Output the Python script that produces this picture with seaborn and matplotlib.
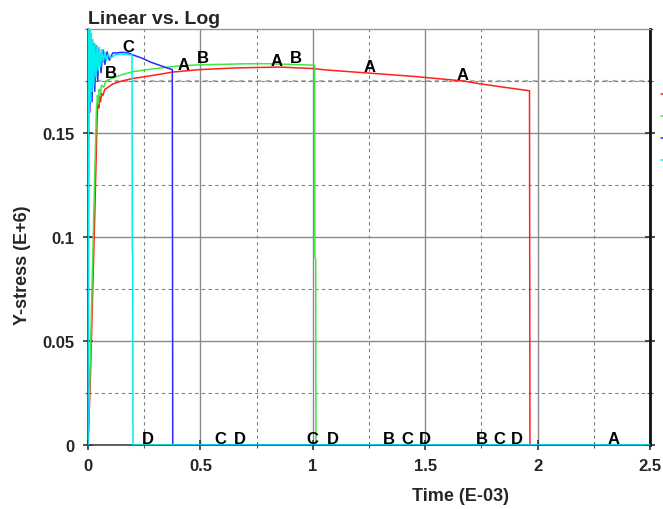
import numpy as np
import pandas as pd
import matplotlib
matplotlib.use("Agg")
import matplotlib.pyplot as plt
from matplotlib.lines import Line2D
from matplotlib.ticker import MultipleLocator
import seaborn as sns

# ---- series data (time in E-03, stress in E+6) ----
t_a = [0.0, 0.01, 0.02, 0.03, 0.04, 0.044, 0.048, 0.052, 0.056, 0.06, 0.066, 0.075,
       0.09, 0.11, 0.15, 0.2, 0.26, 0.3, 0.378, 0.5, 0.66, 0.85, 1.0, 1.06, 1.25,
       1.45, 1.67, 1.74, 1.85, 1.964, 1.966, 2.5]
y_a = [0.0, 0.03, 0.07, 0.11, 0.155, 0.166, 0.162, 0.168, 0.165, 0.169, 0.168, 0.171,
       0.172, 0.1736, 0.175, 0.1762, 0.1772, 0.1779, 0.1793, 0.1805, 0.1813, 0.1817,
       0.181, 0.1803, 0.1788, 0.1772, 0.175, 0.1737, 0.172, 0.1703, 0.0, 0.0]

t_b = [0.0, 0.01, 0.02, 0.03, 0.037, 0.042, 0.046, 0.05, 0.055, 0.06, 0.07, 0.08,
       0.1, 0.15, 0.2, 0.3, 0.4, 0.5, 0.6, 0.7, 0.8, 0.9, 1.0, 1.008, 1.009, 1.013,
       1.014, 2.5]
y_b = [0.0, 0.04, 0.085, 0.13, 0.16, 0.168, 0.164, 0.171, 0.168, 0.173, 0.172, 0.175,
       0.176, 0.178, 0.1795, 0.181, 0.1822, 0.1828, 0.183, 0.1833, 0.1833, 0.183,
       0.1826, 0.1826, 0.091, 0.089, 0.0, 0.0]

t_c = [0.0, 0.003, 0.008, 0.013, 0.018, 0.024, 0.03, 0.036, 0.043, 0.05, 0.058, 0.066,
       0.075, 0.085, 0.095, 0.11, 0.13, 0.15, 0.18, 0.2, 0.24, 0.28, 0.32, 0.36,
       0.375, 0.377, 2.5]
y_c = [0.0, 0.19, 0.16, 0.195, 0.165, 0.193, 0.17, 0.192, 0.175, 0.191, 0.179, 0.19,
       0.183, 0.189, 0.185, 0.1885, 0.1885, 0.1888, 0.1885, 0.1875, 0.186, 0.184,
       0.1825, 0.181, 0.1805, 0.0, 0.0]

t_d = [0.0, 0.002, 0.005, 0.008, 0.011, 0.014, 0.018, 0.022, 0.026, 0.03, 0.035, 0.04,
       0.045, 0.05, 0.056, 0.062, 0.068, 0.075, 0.082, 0.09, 0.1, 0.12, 0.15, 0.19,
       0.196, 0.197, 0.199, 0.2, 2.5]
y_d = [0.0, 0.2, 0.16, 0.2, 0.165, 0.198, 0.17, 0.195, 0.173, 0.193, 0.177, 0.192,
       0.18, 0.191, 0.182, 0.19, 0.184, 0.189, 0.185, 0.188, 0.186, 0.1875, 0.188,
       0.1875, 0.1875, 0.095, 0.09, 0.0, 0.0]

# positions (time) of the curve letters
lab_a = [0.425, 0.84, 1.253, 1.667, 2.34]
lab_b = [0.10, 0.51, 0.925, 1.34, 1.75]
lab_c = [0.18, 0.59, 1.0, 1.42, 1.83]
lab_d = [0.265, 0.675, 1.09, 1.50, 1.91]

series = {"A": (t_a, y_a), "B": (t_b, y_b), "C": (t_c, y_c), "D": (t_d, y_d)}
labels_at = {"A": lab_a, "B": lab_b, "C": lab_c, "D": lab_d}
colors = {"A": "#ff2020", "B": "#40e840", "C": "#2a2aff", "D": "#00eeee"}

x_ticks = [0, 0.5, 1, 1.5, 2, 2.5]
x_ticklabels = ["0", "0.5", "1", "1.5", "2", "2.5"]
y_ticks = [0, 0.05, 0.1, 0.15]
y_ticklabels = ["0", "0.05", "0.1", "0.15"]

rows = []
for name, (tt, yy) in series.items():
    for i, (a, b) in enumerate(zip(tt, yy)):
        rows.append({"curve": name, "order": i, "time": a, "stress": b})
df = pd.DataFrame(rows)

sns.set_theme(style="white")
plt.rcParams["font.family"] = ["Liberation Sans", "DejaVu Sans"]
plt.rcParams["font.weight"] = "bold"

fig = plt.figure(figsize=(6.63, 5.10), dpi=100)
ax = fig.add_axes([88 / 663, 64 / 510, 562 / 663, 416 / 510])

# grid: solid major, dashed minor
ax.xaxis.set_major_locator(MultipleLocator(0.5))
ax.xaxis.set_minor_locator(MultipleLocator(0.25))
ax.yaxis.set_major_locator(MultipleLocator(0.05))
ax.yaxis.set_minor_locator(MultipleLocator(0.025))
ax.grid(which="major", color="#8a8a8a", lw=1.0, ls="-", zorder=0)
ax.grid(which="minor", color="#808080", lw=0.8, ls=(0, (3, 3)), zorder=0)
ax.axhline(0.175, color="#b0b0b0", lw=1.6, ls=(0, (2, 2)), zorder=0.5)

sns.lineplot(data=df, x="time", y="stress", hue="curve", units="curve",
             estimator=None, sort=False, palette=colors, lw=1.1, ax=ax,
             legend=False, zorder=3)

for name, ts in labels_at.items():
    tt, yy = series[name]
    for t0 in ts:
        yv = float(np.interp(t0, tt, yy))
        ax.text(t0, yv - 0.0003, name, ha="center", va="bottom", fontsize=12,
                fontweight="bold", color="black", zorder=5)

ax.set_xlim(0, 2.5)
ax.set_ylim(0, 0.2)
ax.set_xticks(x_ticks)
ax.set_xticklabels(x_ticklabels)
ax.set_yticks(y_ticks)
ax.set_yticklabels(y_ticklabels)
ax.set_xlabel("")
ax.set_ylabel("")
ax.tick_params(which="major", direction="inout", length=7, width=1.2,
               color="#333333", labelsize=12, pad=6)
ax.tick_params(which="minor", direction="inout", length=4, width=0.8,
               color="#555555")
ax.tick_params(axis="y", which="both", left=True, right=True)
ax.tick_params(axis="x", which="both", bottom=True, top=False)
for lab in ax.get_xticklabels() + ax.get_yticklabels():
    lab.set_fontweight("bold")

ax.spines["left"].set_color("#444444")
ax.spines["left"].set_linewidth(1.2)
ax.spines["bottom"].set_color("#444444")
ax.spines["bottom"].set_linewidth(1.2)
ax.spines["top"].set_color("#999999")
ax.spines["top"].set_linewidth(1.0)
ax.spines["right"].set_color("#111111")
ax.spines["right"].set_linewidth(2.0)

fig.text(88 / 663, 1 - 19 / 510, "Linear vs. Log", fontsize=14,
         fontweight="bold", ha="left", va="center")
fig.text(23 / 663, 1 - 265 / 510, "Y-stress (E+6)", fontsize=13,
         fontweight="bold", rotation=90, ha="center", va="center")
fig.text(460 / 663, 1 - 497 / 510, "Time (E-03)", fontsize=13,
         fontweight="bold", ha="center", va="center")

# legend swatches at the right edge of the canvas
for k, name in enumerate(series):
    yk = 1 - (95 + 22 * k) / 510
    fig.add_artist(Line2D([660.5 / 663, 1.0], [yk, yk], color=colors[name],
                          lw=1.1, transform=fig.transFigure))

fig.savefig("out.png", dpi=100)
